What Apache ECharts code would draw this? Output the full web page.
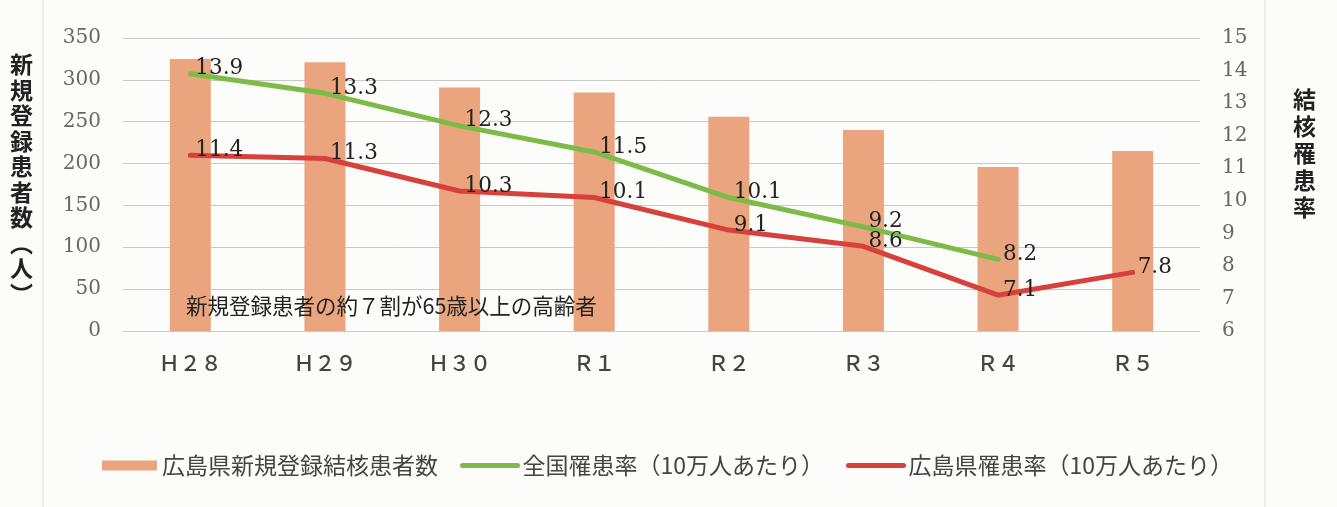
<!DOCTYPE html>
<html>
<head>
<meta charset="utf-8">
<script src="https://cdn.jsdelivr.net/npm/echarts@6/dist/echarts.min.js"></script>
<style>
  html, body { margin: 0; padding: 0; background: #fcfcfa; }
  #main { width: 1337px; height: 507px; }
</style>
</head>
<body>
<div id="main"></div>
<script>
// 年度
var categories = ["Ｈ２８", "Ｈ２９", "Ｈ３０", "Ｒ１", "Ｒ２", "Ｒ３", "Ｒ４", "Ｒ５"];
// 広島県新規登録結核患者数（人）
var patients = [325, 321, 291, 285, 256, 240, 196, 215];
// 全国罹患率（10万人あたり）
var nationalRate = [13.9, 13.3, 12.3, 11.5, 10.1, 9.2, 8.2, null];
// 広島県罹患率（10万人あたり）
var hiroshimaRate = [11.4, 11.3, 10.3, 10.1, 9.1, 8.6, 7.1, 7.8];
// 軸の目盛
var leftTicks = { min: 0, max: 350, interval: 50 };
var rightTicks = { min: 6, max: 15, interval: 1 };

var serif = "DejaVu Serif, serif";
var jp = "Noto Sans CJK JP, sans-serif";

var chart = echarts.init(document.getElementById("main"));

// 線の数値ラベル（記号なしの線にはラベルが付かないので透明な散布図で描く）
function labelSeries(name, data) {
    return {
        name: name,
        type: "scatter",
        yAxisIndex: 1,
        symbolSize: 2,
        itemStyle: { color: "rgba(0,0,0,0)" },
        z: 5,
        label: {
            show: true,
            position: "right",
            distance: 4,
            offset: [0, -5],
            color: "#222",
            opacity: 1,
            fontFamily: serif,
            fontSize: 21.5
        },
        data: data
    };
}

chart.setOption({
    backgroundColor: "#fcfcfa",
    animation: false,
    grid: { left: 123, right: 137, top: 38, bottom: 176 },
    legend: {
        left: 97,
        top: 449,
        itemWidth: 55,
        itemHeight: 10,
        itemGap: 22,
        lineStyle: { width: 5 },
        textStyle: { fontFamily: jp, fontSize: 23, color: "#444" },
        data: [
            { name: "広島県新規登録結核患者数", icon: "rect" },
            { name: "全国罹患率（10万人あたり）", itemStyle: { opacity: 0 } },
            { name: "広島県罹患率（10万人あたり）", itemStyle: { opacity: 0 } }
        ]
    },
    xAxis: {
        type: "category",
        data: categories,
        axisLine: { show: false },
        axisTick: { show: false },
        axisLabel: { margin: 22, fontFamily: jp, fontSize: 21, fontWeight: 500, color: "#444" }
    },
    yAxis: [{
        type: "value",
        min: leftTicks.min,
        max: leftTicks.max,
        interval: leftTicks.interval,
        axisLine: { show: false },
        axisTick: { show: false },
        axisLabel: { margin: 22, fontFamily: serif, fontSize: 20, color: "#666" },
        splitLine: { lineStyle: { color: "#c9c9c9", width: 1 } }
    }, {
        type: "value",
        min: rightTicks.min,
        max: rightTicks.max,
        interval: rightTicks.interval,
        axisLine: { show: false },
        axisTick: { show: false },
        axisLabel: { margin: 22, fontFamily: serif, fontSize: 20, color: "#666" },
        splitLine: { show: false }
    }],
    series: [{
        name: "広島県新規登録結核患者数",
        type: "bar",
        barWidth: 41,
        itemStyle: { color: "#eba57e" },
        data: patients
    }, {
        name: "全国罹患率（10万人あたり）",
        type: "line",
        yAxisIndex: 1,
        symbol: "none",
        lineStyle: { color: "#7cbb47", width: 5, join: "round", cap: "round" },
        itemStyle: { color: "#7cbb47" },
        data: nationalRate
    }, {
        name: "広島県罹患率（10万人あたり）",
        type: "line",
        yAxisIndex: 1,
        symbol: "none",
        lineStyle: { color: "#d8403b", width: 5, join: "round", cap: "round" },
        itemStyle: { color: "#d8403b" },
        data: hiroshimaRate
    },
    labelSeries("全国ラベル", nationalRate),
    labelSeries("広島県ラベル", hiroshimaRate)],
    graphic: [{
        type: "line",
        shape: { x1: 43, y1: 0, x2: 43, y2: 507 },
        style: { stroke: "#dcdcdc", lineWidth: 1 }
    }, {
        type: "line",
        shape: { x1: 1265, y1: 0, x2: 1265, y2: 507 },
        style: { stroke: "#dcdcdc", lineWidth: 1 }
    }, {
        type: "text",
        left: 10,
        top: 52,
        z: 100,
        style: {
            text: "新\n規\n登\n録\n患\n者\n数\n︵\n人\n︶",
            fontFamily: jp, fontSize: 23, fontWeight: "bold", lineHeight: 25.5, fill: "#222"
        }
    }, {
        type: "text",
        left: 1293,
        top: 86,
        z: 100,
        style: {
            text: "結\n核\n罹\n患\n率",
            fontFamily: jp, fontSize: 23, fontWeight: "bold", lineHeight: 27, fill: "#222"
        }
    }, {
        type: "text",
        left: 186,
        top: 295,
        z: 100,
        style: {
            text: "新規登録患者の約７割が65歳以上の高齢者",
            fontFamily: jp, fontSize: 21.5, fill: "#222"
        }
    }]
});
</script>
</body>
</html>
